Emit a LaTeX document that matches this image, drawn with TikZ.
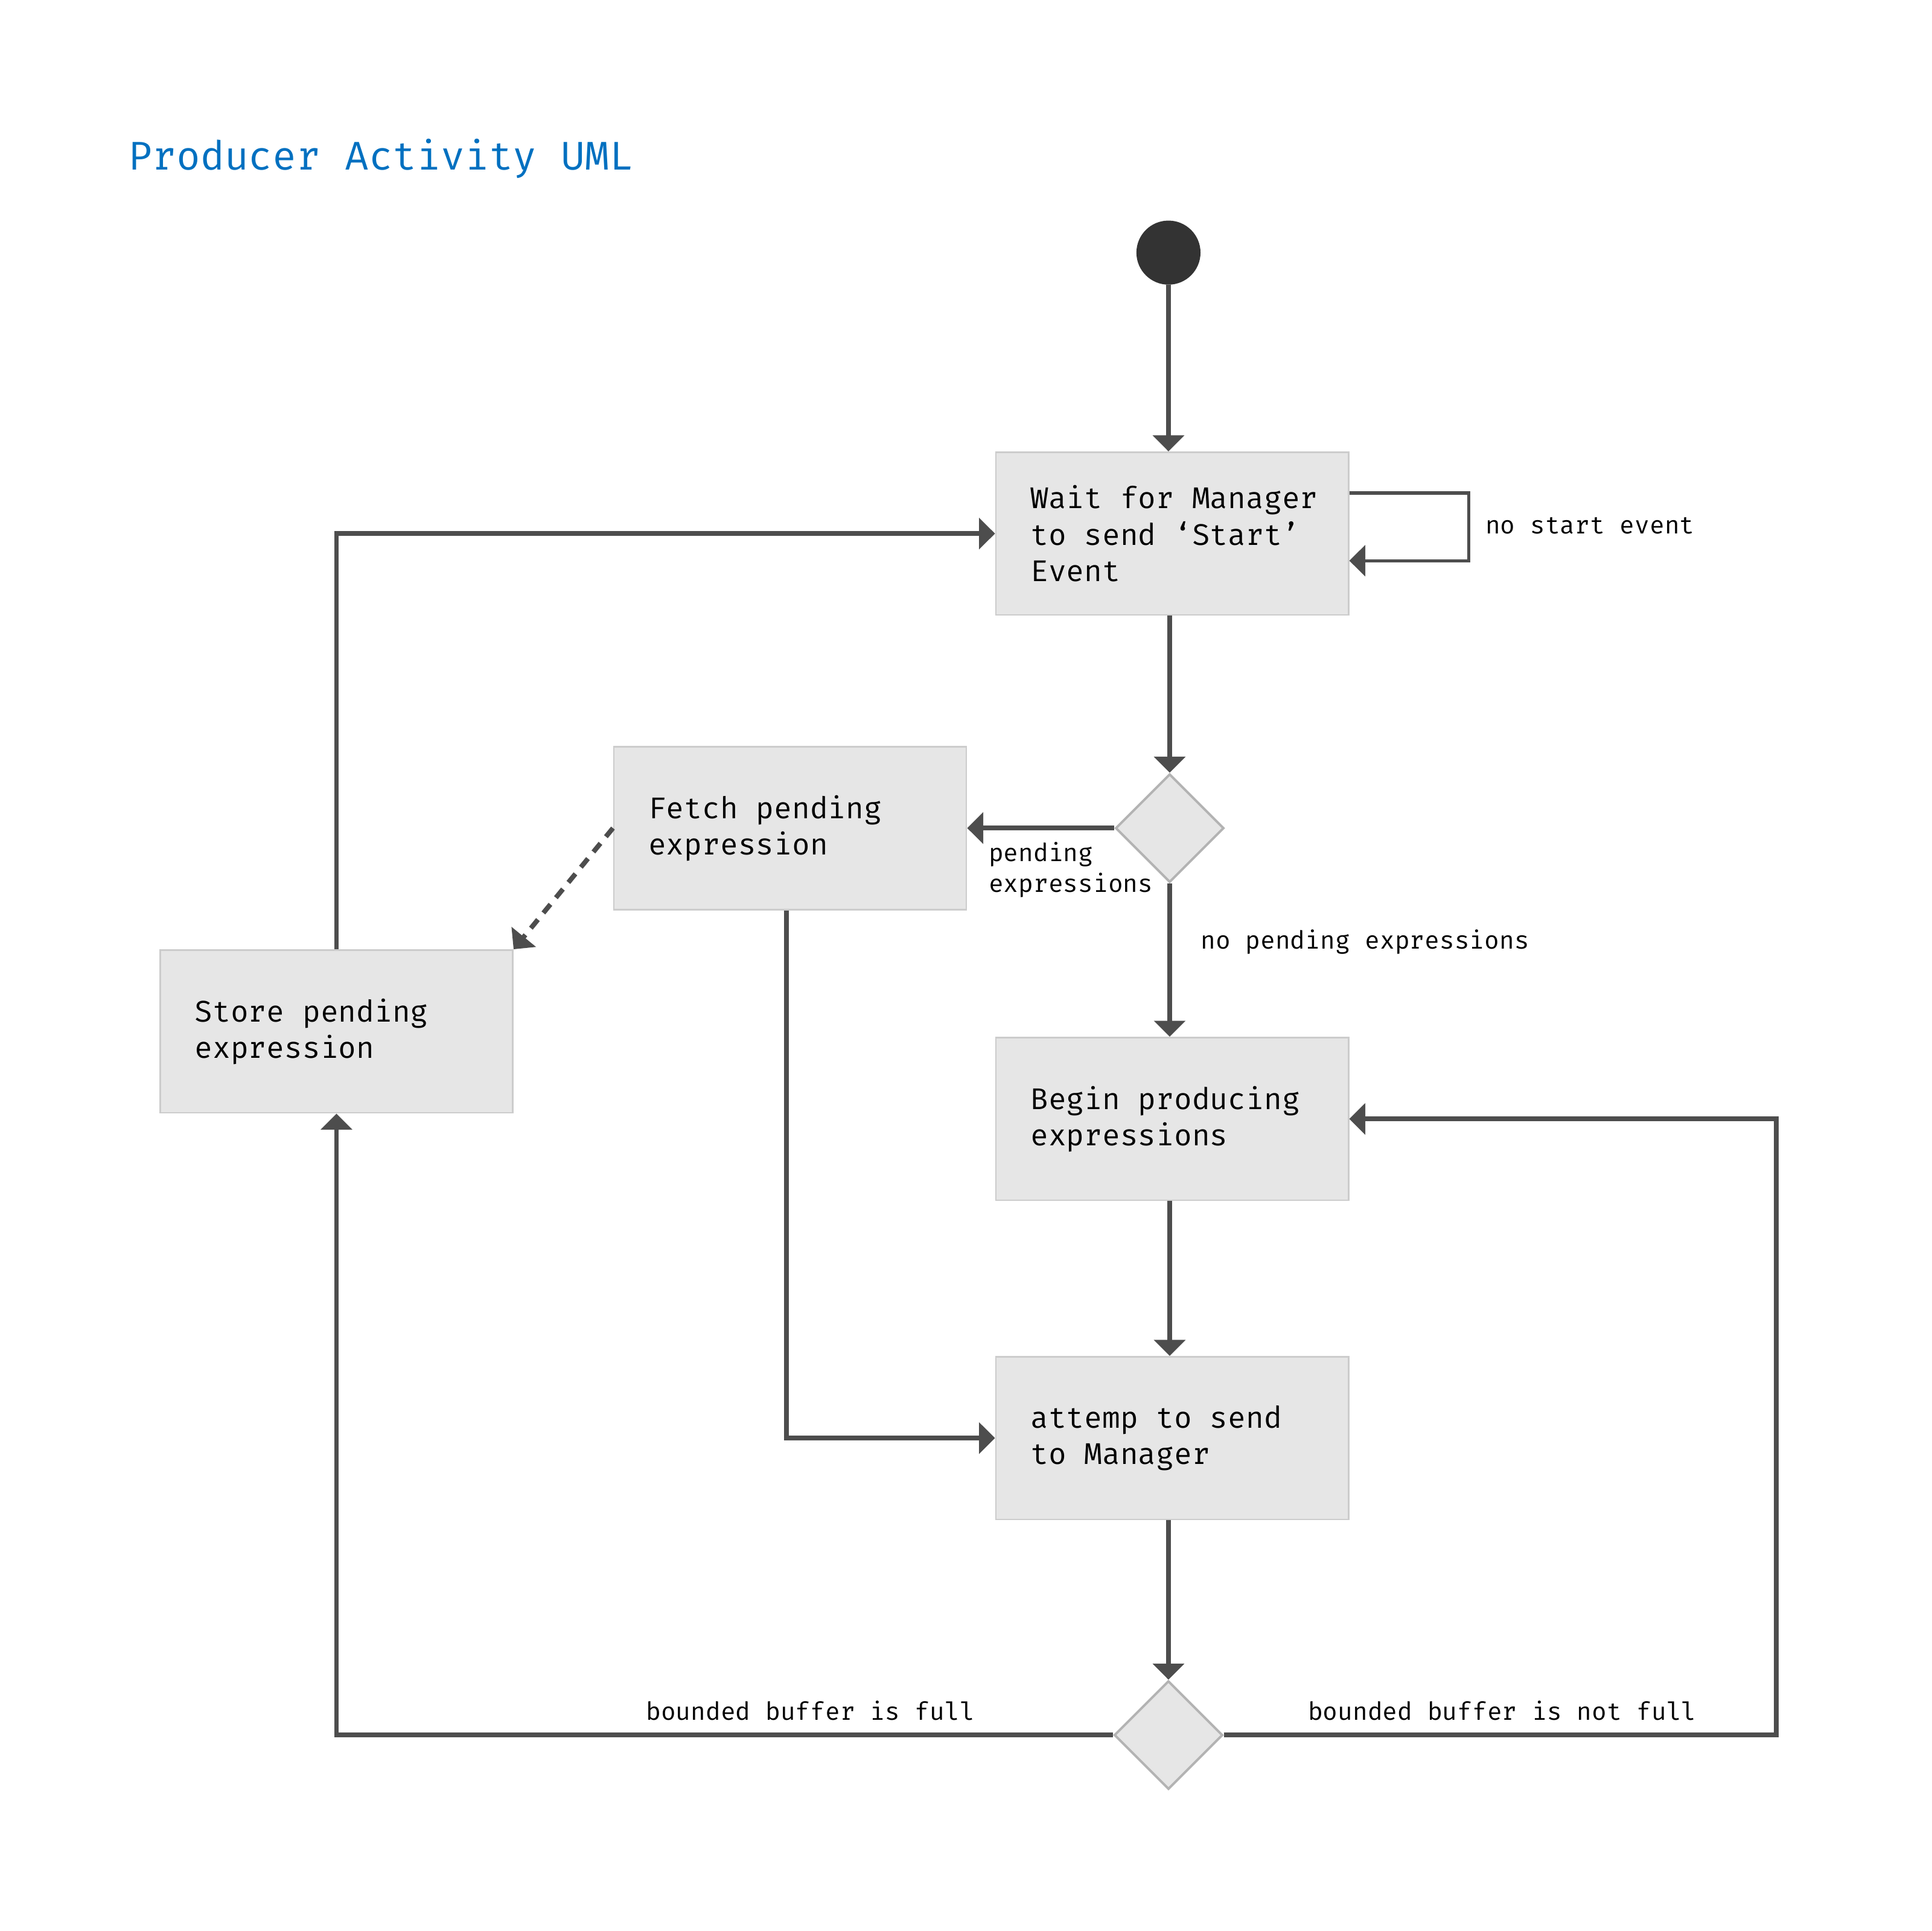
\documentclass[tikz,border=0pt]{standalone}
\usepackage{fontspec}
\IfFontExistsTF{Fira Mono}{\setmonofont{Fira Mono}}{\setmonofont{DejaVu Sans Mono}}
\usepackage{tikz}
\usepackage{xcolor}
\usetikzlibrary{shapes.geometric,arrows.meta}
\definecolor{linegray}{HTML}{4D4D4D}
\definecolor{boxfill}{HTML}{E6E6E6}
\definecolor{boxedge}{HTML}{CCCCCC}
\definecolor{diaedge}{HTML}{B3B3B3}
\definecolor{startdot}{HTML}{333333}
\definecolor{titleblue}{HTML}{0070C0}

\begin{document}
\begin{tikzpicture}[x=1pt,y=-1pt,
        box/.style={draw=boxedge,line width=1.4pt,fill=boxfill,text width=230pt,inner xsep=28pt,minimum height=132pt,align=flush left,font=\ttfamily\fontsize{24.3}{29.5}\selectfont},
        decision/.style={diamond,draw=diaedge,line width=1.9pt,fill=boxfill,minimum width=88pt,minimum height=88pt,inner sep=0pt},
        flow/.style={draw=linegray,line width=3.9pt,-{Triangle[width=25pt,length=13pt]}},
        loopflow/.style={flow,line width=2.6pt},
        dashflow/.style={flow,dash pattern=on 9pt off 7pt},
        lbl/.style={anchor=base west,align=left,inner sep=0pt,font=\ttfamily\fontsize{20.2}{25}\selectfont}]
        \useasboundingbox (0,0) rectangle (1567,1567);
        \node[anchor=base west,inner sep=0pt,text=titleblue,font=\ttfamily\fontsize{32.5}{39}\selectfont] (title) at (104,138) {Producer Activity UML};
        \node[circle,fill=startdot,minimum size=52pt,inner sep=0pt] (start) at (948,205) {};
        \node[box] (wait) at (951,433) {Wait~for~Manager\\to send ‘Start’\\Event};
        \node[decision] (dec1) at (949,672) {};
        \node[box] (fetch) at (641,672) {Fetch pending\\expression};
        \node[box] (store) at (273,837) {Store pending\\expression};
        \node[box] (begin) at (951,908) {Begin producing\\expressions};
        \node[box] (attemp) at (951,1167) {attemp to send\\to Manager};
        \node[decision] (dec2) at (948,1408) {};
        \coordinate (bend) at (1441,1408);
        \draw[flow] (start) -- (start |- wait.north);
        \draw[loopflow] ([yshift=33pt]wait.east) -- ++(97,0) |- ([yshift=-22pt]wait.east);
        \node[lbl] (nostart) at (1205,433) {no start event};
        \draw[flow] (wait.south -| dec1) -- (dec1.north);
        \draw[flow] (dec1.west) -- (fetch.east);
        \node[lbl] (pend) at (802,724) {pending\\expressions};
        \draw[flow] (dec1.south) -- (dec1 |- begin.north);
        \node[lbl] (nopend) at (974,770) {no pending expressions};
        \draw[dashflow] (fetch.west) -- (store.north east);
        \draw[flow] (store.north) |- (wait.west);
        \draw[flow] ([xshift=-3pt]fetch.south) |- (attemp.west);
        \draw[flow] (begin.south -| dec1) -- (attemp.north -| dec1);
        \draw[flow] (attemp.south -| dec2) -- (dec2.north);
        \draw[flow] (dec2.west) -| (store.south);
        \node[lbl] (full) at (524,1396) {bounded buffer is full};
        \draw[flow] (dec2.east) -- (bend) |- (begin.east);
        \node[lbl] (notfull) at (1061,1396) {bounded buffer is not full};
    \end{tikzpicture}
\end{document}
